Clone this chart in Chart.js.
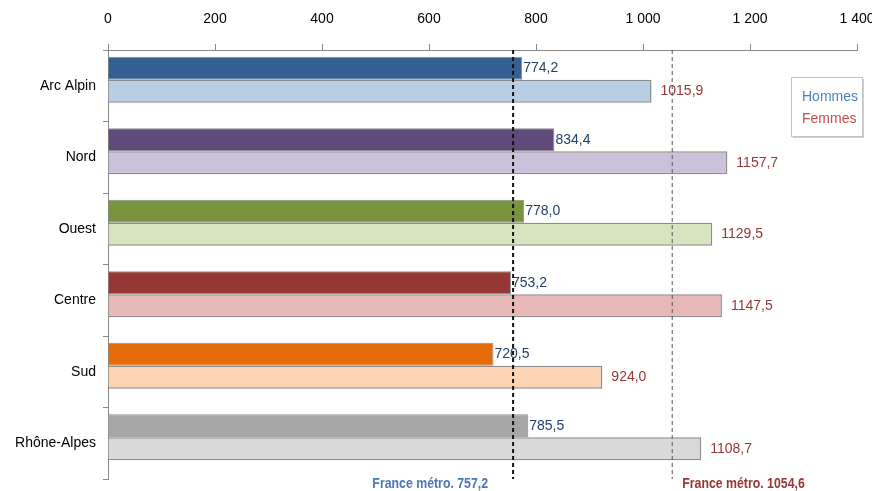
<!DOCTYPE html>
<html>
<head>
<meta charset="utf-8">
<script src="https://cdn.jsdelivr.net/npm/chart.js@4/dist/chart.umd.min.js"></script>
<style>
  html, body { margin: 0; padding: 0; background: #fff; }
  #wrap { width: 872px; height: 491px; }
</style>
</head>
<body>
<div id="wrap"><canvas id="c" width="872" height="491"></canvas></div>
<script>
// Regions and values (per 100 000 inhabitants)
const categories = ['Arc Alpin', 'Nord', 'Ouest', 'Centre', 'Sud', 'Rhône-Alpes'];
const hommes = [774.2, 834.4, 778.0, 753.2, 720.5, 785.5];
const femmes = [1015.9, 1157.7, 1129.5, 1147.5, 924.0, 1108.7];
const tickLabels = ['0', '200', '400', '600', '800', '1 000', '1 200', '1 400'];
const refHommes = 757.2;
const refFemmes = 1054.6;
const refLabelHommes = 'France métro. 757,2';
const refLabelFemmes = 'France métro. 1054,6';

// Colours per region
const hommesColors = ['#365f91', '#604a7b', '#77933c', '#953735', '#e46c0a', '#a6a6a6'];
const femmesColors = ['#b9cde5', '#ccc1da', '#d7e4bd', '#e6b9b8', '#fcd5b5', '#d9d9d9'];

const FONT = "'Liberation Sans', Arial, sans-serif";
const BAR_SHIFT = -6; // bar pairs sit slightly above the middle of their band
const fmt = v => v.toFixed(1).replace('.', ',');

// text squeezed horizontally, for the condensed bold captions
function narrowText(ctx, text, x, y, align, squeeze) {
  const w = ctx.measureText(text).width * squeeze;
  const left = align === 'right' ? x - w : x;
  ctx.save();
  ctx.translate(left, y);
  ctx.scale(squeeze, 1);
  ctx.textAlign = 'left';
  ctx.fillText(text, 0, 0);
  ctx.restore();
}

const shiftBars = {
  id: 'shiftBars',
  beforeDatasetsDraw(chart) {
    chart.ctx.save();
    chart.ctx.translate(0, BAR_SHIFT);
  },
  afterDatasetsDraw(chart) {
    chart.ctx.restore();
  }
};

const overlay = {
  id: 'overlay',
  afterDatasetsDraw(chart) {
    const ctx = chart.ctx;
    const xs = chart.scales.x;
    const area = chart.chartArea;

    // value labels
    ctx.save();
    ctx.font = '14px ' + FONT;
    ctx.textBaseline = 'middle';
    ctx.textAlign = 'left';
    chart.getDatasetMeta(0).data.forEach((bar, i) => {
      ctx.fillStyle = '#1f3f66';
      ctx.fillText(fmt(hommes[i]), bar.x + 1, bar.y + BAR_SHIFT);
    });
    chart.getDatasetMeta(1).data.forEach((bar, i) => {
      ctx.fillStyle = '#953735';
      ctx.fillText(fmt(femmes[i]), bar.x + 9, bar.y + BAR_SHIFT);
    });
    ctx.restore();

    // reference lines
    const x1 = xs.getPixelForValue(refHommes);
    const x2 = xs.getPixelForValue(refFemmes);
    ctx.save();
    ctx.setLineDash([4, 3]);
    ctx.strokeStyle = '#111';
    ctx.lineWidth = 2;
    ctx.beginPath();
    ctx.moveTo(x1, area.top);
    ctx.lineTo(x1, area.bottom);
    ctx.stroke();
    ctx.strokeStyle = '#555';
    ctx.lineWidth = 1;
    ctx.beginPath();
    ctx.moveTo(x2, area.top);
    ctx.lineTo(x2, area.bottom);
    ctx.stroke();
    ctx.restore();

    // reference captions
    ctx.save();
    ctx.font = 'bold 14px ' + FONT;
    ctx.textBaseline = 'middle';
    ctx.fillStyle = '#4a76b8';
    narrowText(ctx, refLabelHommes, x1 - 25, area.bottom + 5, 'right', 0.88);
    ctx.fillStyle = '#953735';
    narrowText(ctx, refLabelFemmes, x2 + 10, area.bottom + 5, 'left', 0.88);
    ctx.restore();

    // legend box
    const bx = 791, by = 77, bw = 71, bh = 59;
    ctx.save();
    ctx.fillStyle = '#cfcfcf';
    ctx.fillRect(bx + 2, by + 2, bw, bh);
    ctx.fillStyle = '#fff';
    ctx.fillRect(bx, by, bw, bh);
    ctx.strokeStyle = '#c4c4c4';
    ctx.lineWidth = 1;
    ctx.strokeRect(bx + 0.5, by + 0.5, bw, bh);
    ctx.font = '14px ' + FONT;
    ctx.textBaseline = 'middle';
    ctx.textAlign = 'left';
    ctx.fillStyle = '#4f81bd';
    ctx.fillText(chart.data.datasets[0].label, bx + 11, by + 20);
    ctx.fillStyle = '#c0504d';
    ctx.fillText(chart.data.datasets[1].label, bx + 11, by + 42);
    ctx.restore();
  }
};

new Chart(document.getElementById('c'), {
  type: 'bar',
  data: {
    labels: categories,
    datasets: [
      { label: 'Hommes', data: hommes, backgroundColor: hommesColors, borderColor: '#8c8c8c', borderWidth: 1 },
      { label: 'Femmes', data: femmes, backgroundColor: femmesColors, borderColor: '#8c8c8c', borderWidth: 1.5 }
    ]
  },
  options: {
    indexAxis: 'y',
    responsive: false,
    animation: false,
    layout: { padding: { top: 0, right: 15, bottom: 12, left: 0 } },
    datasets: { bar: { categoryPercentage: 0.643, barPercentage: 1.0 } },
    plugins: { legend: { display: false }, tooltip: { enabled: false } },
    scales: {
      x: {
        position: 'top',
        min: 0, max: 1400,
        ticks: {
          stepSize: 200,
          padding: 16,
          color: '#000',
          font: { family: FONT, size: 14 },
          callback: (v, i) => tickLabels[i]
        },
        grid: { drawOnChartArea: false, tickLength: 6, color: '#888' },
        border: { color: '#888' },
        afterFit: s => { s.height = 50; s.paddingLeft = 0; s.paddingRight = 0; }
      },
      y: {
        ticks: {
          color: '#000',
          padding: 7,
          font: { family: FONT, size: 14 }
        },
        grid: { drawOnChartArea: false, tickLength: 5, color: '#888', offset: true },
        border: { color: '#888' },
        afterFit: s => { s.width = 108; s.paddingTop = 0; s.paddingBottom = 0; }
      }
    }
  },
  plugins: [shiftBars, overlay]
});
</script>
</body>
</html>
